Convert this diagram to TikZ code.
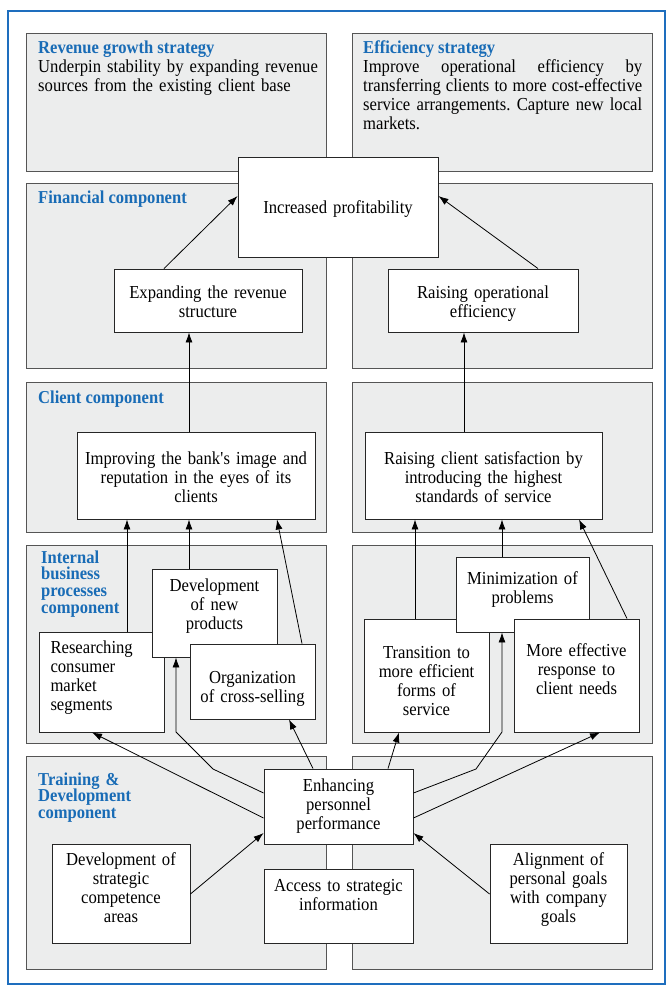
\documentclass[tikz,border=0pt]{standalone}
\usepackage{fontspec}
\setmainfont[FakeStretch=0.91]{Liberation Serif}
\usepackage{xcolor}
\usepackage{tikz}
\usetikzlibrary{arrows.meta, positioning, calc}

\definecolor{frameblue}{RGB}{30,110,190}
\definecolor{headblue}{RGB}{25,108,182}
\definecolor{panelgray}{RGB}{236,237,237}
\definecolor{panelline}{RGB}{85,85,85}

\newcommand{\bodyfont}{\fontsize{18.3}{19}\selectfont}
\newcommand{\headfont}{\fontsize{18.2}{16.7}\selectfont\bfseries}

\tikzset{
  panel/.style={draw=panelline, fill=panelgray, line width=0.9pt},
  box/.style={draw=black!85, fill=white, line width=0.9pt, inner sep=0pt, align=center, font=\bodyfont},
  bx/.style 2 args={minimum width=#1pt, minimum height=#2pt, text width=#1pt},
  tb/.style 2 args={text height=#1pt, text depth=#2pt},
  head/.style={anchor=base west, inner sep=0pt, align=left, text=headblue, font=\headfont},
  desc/.style={anchor=base west, inner sep=0pt, font=\bodyfont},
  link/.style={line width=0.8pt, ->},
}

\begin{document}
\begin{tikzpicture}[x=1pt, y=-1pt, >={Latex[length=10pt, width=7pt]}]
    \useasboundingbox (0,0) rectangle (671,985);
    % outer frame
    \draw[frameblue, line width=2pt] (8,11) rectangle (665,984);

    % panels, two per row
    \foreach \ya/\yb in {33/171, 183/368, 382/532, 545/743, 756/969} {
        \draw[panel] (26,\ya) rectangle (326,\yb);
        \draw[panel] (352,\ya) rectangle (652,\yb);
    }

    % strategies
    \node[head] (hrev) at (38,53) {Revenue growth strategy};
    \node[desc, text width=285pt, align=left] (drev) at (38,72.5)
        {Underpin stability by expanding revenue\\sources from the existing client base};
    \node[head] (heff) at (363,53) {Efficiency strategy};
    \node[desc, text width=279pt] (deff) at (363,72.5)
        {\noindent\hbox to 279pt{Improve\hfill operational\hfill efficiency\hfill by}\par
         \noindent\hbox to 279pt{transferring\hfill clients\hfill to\hfill more\hfill cost-effective}\par
         \noindent\hbox to 279pt{service\hfill arrangements.\hfill Capture\hfill new\hfill local}\par
         \noindent markets.};

    % component headings
    \node[head] (hfin) at (38,203) {Financial component};
    \node[head] (hcli) at (38,403) {Client component};
    \node[head, text width=120pt] (hint) at (41,563) {Internal\\business\\processes\\component};
    \node[head, text width=150pt] (htrn) at (38,785) {Training \&\\Development\\component};

    % financial
    \node[box, bx={200}{100}, tb={12}{0}] (profit) at (338,207) {Increased profitability};
    \node[box, bx={188}{63}, tb={0}{5}] (expand) at (208,300.5) {Expanding the revenue\\structure};
    \node[box, bx={190}{63}, tb={0}{5}] (raiseop) at (483,300.5) {Raising operational\\efficiency};

    % client
    \node[box, bx={238}{87}, tb={0}{23}] (improve) at (196,475.5)
        {Improving the bank\textquotesingle s image and\\reputation in the eyes of its\\clients};
    \node[box, bx={237}{87}, tb={0}{23}] (satisf) at (483.5,475.5)
        {Raising client satisfaction by\\introducing the highest\\standards of service};

    % internal business processes
    \node[box, bx={125}{100}, text width=102pt, align=left, tb={0}{58}] (research) at (101.5,682)
        {Researching\\consumer\\market\\segments};
    \node[box, bx={125}{88}, tb={0}{44}] (devprod) at (214.5,613) {Development\\of new\\products};
    \node[box, bx={125}{75}, tb={3}{0}] (cross) at (252.5,681.5) {Organization\\of cross-selling};
    \node[box, bx={125}{113}, tb={0}{35}] (trans) at (426.5,675.5)
        {Transition to\\more efficient\\forms of\\service};
    \node[box, bx={133}{75}, tb={0}{21}] (minim) at (522.5,594.5) {Minimization of\\problems};
    \node[box, bx={125}{113}, tb={0}{39}] (moreeff) at (576.5,675.5)
        {More effective\\response to\\client needs};

    % training and development
    \node[box, bx={149}{75}, tb={0}{31}] (enh) at (338.5,806.5) {Enhancing\\personnel\\performance};
    \node[box, bx={138}{99}, tb={0}{57}] (devcomp) at (121,893.5)
        {Development of\\strategic\\competence\\areas};
    \node[box, bx={149}{74}, tb={0}{30}] (access) at (338.5,906) {Access to strategic\\information};
    \node[box, bx={137}{99}, tb={0}{57}] (align) at (558.5,893.5)
        {Alignment of\\personal goals\\with company\\goals};

    % links up to profitability
    \draw[link] (expand.north -| 164,0) -- (profit.west |- 0,196);
    \draw[link] (raiseop.north -| 538,0) -- (profit.east |- 0,196);
    \draw[link] (improve.north -| 189,0) -- (expand.south -| 189,0);
    \draw[link] (satisf.north -| 464,0) -- (raiseop.south -| 464,0);

    % internal -> client
    \draw[link] (research.north -| 127,0) -- (improve.south -| 127,0);
    \draw[link] (devprod.north -| 189,0) -- (improve.south -| 189,0);
    \draw[link] (cross.north -| 302,0) -- (improve.south -| 277,0);
    \draw[link] (trans.north -| 415,0) -- (satisf.south -| 415,0);
    \draw[link] (minim.north -| 502,0) -- (satisf.south -| 502,0);
    \draw[link] (moreeff.north -| 627,0) -- (satisf.south -| 579,0);

    % personnel -> internal
    \draw[link] (enh.west |- 0,818) -- (research.south -| 92,0);
    \draw[link] (enh.west |- 0,793) -- (213,769) -- (176,732) -- (devprod.south -| 176,0);
    \draw[link] (enh.north -| 313,0) -- (cross.south -| 289,0);
    \draw[link] (enh.north -| 388,0) -- (trans.south -| 399,0);
    \draw[link] (enh.east |- 0,793) -- (476,769) -- (502,732) -- (minim.south -| 502,0);
    \draw[link] (enh.east |- 0,818) -- (moreeff.south -| 600,0);

    % enablers -> personnel
    \draw[link] (devcomp.east |- 0,894) -- (enh.west |- 0,833);
    \draw[link] (align.west |- 0,894) -- (enh.east |- 0,833);
\end{tikzpicture}
\end{document}
